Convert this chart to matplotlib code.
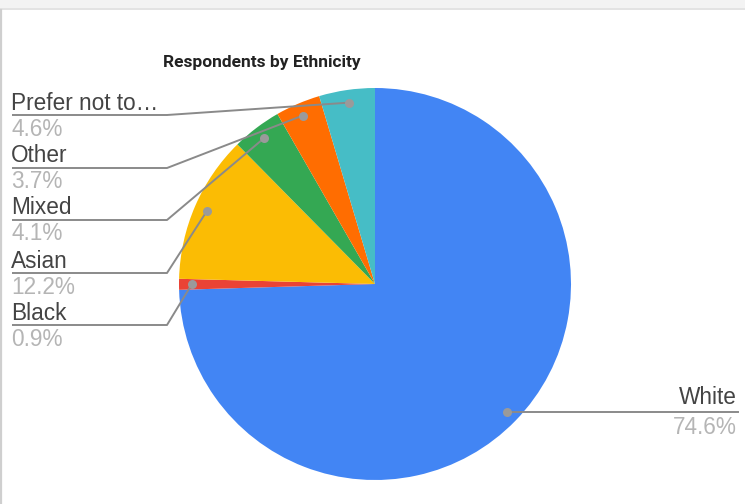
import numpy as np
import matplotlib.pyplot as plt
from matplotlib.patches import Rectangle

categories = ["White", "Black", "Asian", "Mixed", "Other", "Prefer not to…"]
values = [74.6, 0.9, 12.2, 4.1, 3.7, 4.6]
pct_labels = ["74.6%", "0.9%", "12.2%", "4.1%", "3.7%", "4.6%"]
colors = ["#4285F4", "#EA4335", "#FBBC04", "#34A853", "#FF6D01", "#46BDC6"]

W, H = 745, 504
plt.rcParams['font.family'] = ['Liberation Sans', 'DejaVu Sans']

fig = plt.figure(figsize=(W / 100, H / 100), dpi=100)
ax = fig.add_axes([0, 0, 1, 1])


def y(py):
    # pixel row (from top) -> data y
    return H - py


cx, cy, r = 375, y(284), 196
ax.pie(values, colors=colors, startangle=90, counterclock=False,
       center=(cx, cy), radius=r, frame=True,
       wedgeprops=dict(linewidth=0))
ax.set_xlim(0, W)
ax.set_ylim(0, H)
ax.set_aspect('equal')
ax.axis('off')

# card frame: grey strip on top, thin border on the left
ax.add_patch(Rectangle((0, y(8)), W, 8, color="#f3f3f3", lw=0, zorder=0))
ax.plot([0, W], [y(8.5), y(8.5)], color="#dedede", lw=1.2)
ax.plot([0.8, 0.8], [y(10), 0], color="#cfcfcf", lw=1.6)

ax.text(262, y(62), "Respondents by Ethnicity", ha='center', va='center',
        fontsize=12.5, fontweight='bold', color="#222222",
        family=['Roboto', 'DejaVu Sans'])

# leader dots on the mid angle of each slice
total = sum(values)
cum = np.cumsum([0] + values[:-1])
mid = (cum + np.array(values) / 2) / total * 2 * np.pi
dots_x = cx + 0.935 * r * np.sin(mid)
dots_y = cy + 0.935 * r * np.cos(mid)

name_col = "#444444"
pct_col = "#b5b5b5"
line_col = "#8a8a8a"
fs = 16.3

# left-side labels, top to bottom: Prefer, Other, Mixed, Asian, Black
left_rows = [5, 4, 3, 2, 1]
line_ys = [115, 168, 220, 273, 325]
for i, ly in zip(left_rows, line_ys):
    ax.plot([12, 167, dots_x[i]], [y(ly), y(ly), dots_y[i]],
            color=line_col, lw=1.4, solid_capstyle='butt', zorder=3)
    ax.plot(dots_x[i], dots_y[i], 'o', ms=6.5, color="#9a9a9a",
            mec="none", zorder=4)
    ax.text(11, y(ly - 12), categories[i], ha='left', va='center',
            fontsize=fs, color=name_col)
    ax.text(11, y(ly + 14), pct_labels[i], ha='left', va='center',
            fontsize=fs, color=pct_col)

# White on the right
ax.plot([dots_x[0], 738], [dots_y[0], dots_y[0]], color=line_col, lw=1.4,
        zorder=3)
ax.plot(dots_x[0], dots_y[0], 'o', ms=6.5, color="#9a9a9a", mec="none",
        zorder=4)
ax.text(737, dots_y[0] + 14, categories[0], ha='right', va='center',
        fontsize=fs, color=name_col)
ax.text(737, dots_y[0] - 16, pct_labels[0], ha='right', va='center',
        fontsize=fs, color=pct_col)

fig.savefig("out.png", dpi=100)
